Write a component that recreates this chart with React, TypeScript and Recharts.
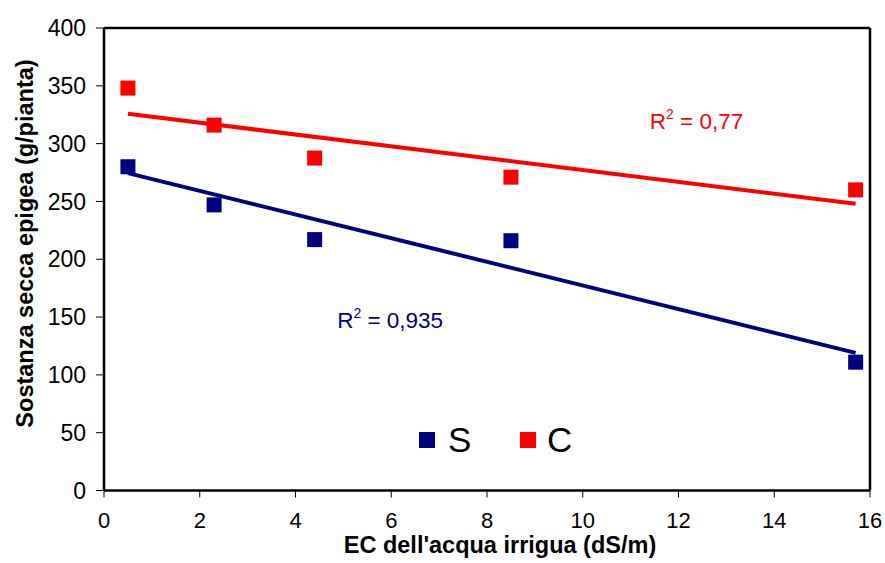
import React from 'react';
import { ScatterChart, Scatter, XAxis, YAxis, ReferenceLine, ReferenceDot, Legend } from 'recharts';

const ecValues = [0.5, 2.3, 4.4, 8.5, 15.7];
const sValues = [280, 247, 217, 216, 111];
const cValues = [348, 316, 287.5, 271, 260];
const sTrendX = [0.5, 15.7];
const sTrendY = [274.5, 119];
const cTrendX = [0.5, 15.7];
const cTrendY = [325.8, 248];
const xTicks = [0, 2, 4, 6, 8, 10, 12, 14, 16];
const yTicks = [0, 50, 100, 150, 200, 250, 300, 350, 400];
const sR2 = '0,935';
const cR2 = '0,77';

const NAVY = '#000080';
const RED = '#FF0000';
const FONT = '"Liberation Sans", Arial, sans-serif';

const sData = ecValues.map((x, i) => ({ x, y: sValues[i] }));
const cData = ecValues.map((x, i) => ({ x, y: cValues[i] }));
const sTrend = sTrendX.map((x, i) => ({ x, y: sTrendY[i] }));
const cTrend = cTrendX.map((x, i) => ({ x, y: cTrendY[i] }));

const SquareShape = (color: string) => (props: any) => {
  const { cx, cy } = props;
  if (cx == null || cy == null) return <g />;
  return <rect x={cx - 7.5} y={cy - 7.5} width={15} height={15} fill={color} />;
};

const NoShape = () => <g />;

const R2Label = (color: string, val: string) => (props: any) => {
  const vb = props.viewBox || {};
  const x = vb.cx != null ? vb.cx : vb.x;
  const y = vb.cy != null ? vb.cy : vb.y;
  return (
    <text x={x} y={y} fill={color} fontFamily={FONT} fontSize={22.5}>
      <tspan>R</tspan>
      <tspan fontSize={14} dy={-10}>2</tspan>
      <tspan dy={10}>{' = ' + val}</tspan>
    </text>
  );
};

const YTitle = (props: any) => {
  const vb = props.viewBox;
  const cx = vb.x + 33;
  const cy = 243.5;
  return (
    <text x={cx} y={cy} transform={`rotate(-90, ${cx}, ${cy})`} textAnchor="middle"
      fontFamily={FONT} fontWeight="bold" fontSize={23.5} fill="#000">
      Sostanza secca epigea (g/pianta)
    </text>
  );
};

const XTitle = (props: any) => {
  const vb = props.viewBox;
  const cx = vb.x + vb.width / 2 + 13;
  return (
    <text x={cx} y={553} textAnchor="middle" fontFamily={FONT} fontWeight="bold" fontSize={23.5} fill="#000">
      EC dell'acqua irrigua (dS/m)
    </text>
  );
};

const LegendContent = () => (
  <svg width={200} height={50} style={{ display: 'block' }}>
    <rect x={9} y={17} width={16} height={16} fill={NAVY} />
    <text x={38} y={37} fontFamily={FONT} fontSize={35} fill="#000">S</text>
    <rect x={110} y={17} width={16} height={16} fill={RED} />
    <text x={137} y={37} fontFamily={FONT} fontSize={35} fill="#000">C</text>
  </svg>
);

export default function App() {
  return (
    <div style={{ position: 'absolute', left: 0, top: 0, background: '#fff' }}>
      <ScatterChart width={885} height={563} margin={{ top: 28, right: 15, bottom: 0, left: 0 }}>
        <XAxis type="number" dataKey="x" domain={[0, 16]} ticks={xTicks} interval={0}
          height={72.5} tickSize={7} tickMargin={15}
          axisLine={{ stroke: '#000', strokeWidth: 2.5 }} tickLine={{ stroke: '#000', strokeWidth: 1 }}
          tick={{ fill: '#000', fontFamily: FONT, fontSize: 22 }} label={<XTitle />} />
        <YAxis type="number" dataKey="y" domain={[0, 400]} ticks={yTicks} interval={0}
          width={104} tickSize={8} tickMargin={10}
          axisLine={{ stroke: '#000', strokeWidth: 2.5 }} tickLine={{ stroke: '#000', strokeWidth: 1 }}
          tick={{ fill: '#000', fontFamily: FONT, fontSize: 23 }} label={<YTitle />} />
        <ReferenceLine y={400} stroke="#000" strokeWidth={2.5} />
        <ReferenceLine x={16} stroke="#000" strokeWidth={2.5} />
        <Scatter name="S-trend" data={sTrend} line={{ stroke: NAVY, strokeWidth: 4 }} shape={NoShape}
          legendType="none" isAnimationActive={false} />
        <Scatter name="C-trend" data={cTrend} line={{ stroke: RED, strokeWidth: 4 }} shape={NoShape}
          legendType="none" isAnimationActive={false} />
        <Scatter name="S" data={sData} fill={NAVY} shape={SquareShape(NAVY)} isAnimationActive={false} />
        <Scatter name="C" data={cData} fill={RED} shape={SquareShape(RED)} isAnimationActive={false} />
        <ReferenceDot x={11.4} y={312.6} r={0} fill="none" stroke="none" label={R2Label(RED, cR2)} />
        <ReferenceDot x={4.87} y={140.4} r={0} fill="none" stroke="none" label={R2Label(NAVY, sR2)} />
        <Legend content={<LegendContent />} layout="horizontal" verticalAlign="middle" align="center"
          wrapperStyle={{ position: 'absolute', left: 410, top: 415, width: 200, height: 50, bottom: 'auto', right: 'auto' }} />
      </ScatterChart>
    </div>
  );
}
